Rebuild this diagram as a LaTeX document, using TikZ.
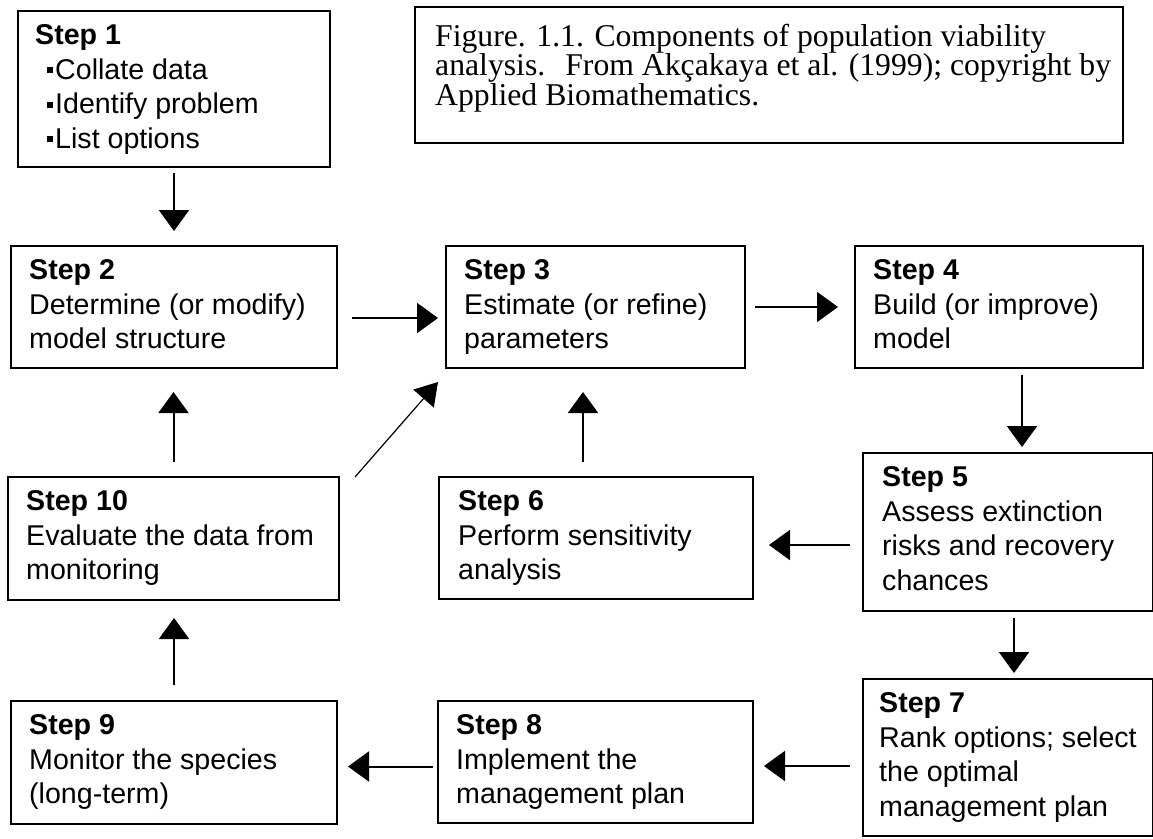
\documentclass[tikz,border=0pt]{standalone}
\usepackage{fontspec}
\setmainfont{Liberation Sans}
\newfontfamily\capfont{Liberation Serif}
\usetikzlibrary{arrows.meta}
\tikzset{
  box/.style={draw, line width=2pt, anchor=north west, inner sep=0pt, outer sep=0pt},
  txt/.style={anchor=north west, inner sep=0pt, align=left, font=\fontsize{28.6}{34.5}\selectfont},
  captxt/.style={anchor=north west, inner sep=0pt, align=left, font=\capfont\fontsize{31.7}{28.5}\selectfont},
  arr/.style={line width=2pt, -{Triangle[length=21pt,width=30pt]}},
  thinarr/.style={line width=1.2pt, -{Triangle[length=22pt,width=27pt]}},
}
\newcommand{\bul}{\hspace*{12pt}\rule[6pt]{6pt}{6pt}\hspace{2pt}}
\begin{document}
\begin{tikzpicture}[x=1pt,y=-1pt]
\useasboundingbox (0,0) rectangle (1153,838);
% boxes
\node[box, minimum width=312pt, minimum height=156pt] (s1) at (18,11) {};
\node[box, minimum width=708pt, minimum height=136pt] (cap) at (415,7) {};
\node[box, minimum width=326pt, minimum height=122pt] (s2) at (11,246) {};
\node[box, minimum width=299pt, minimum height=122pt] (s3) at (446,246) {};
\node[box, minimum width=288pt, minimum height=122pt] (s4) at (855,246) {};
\node[box, minimum width=290pt, minimum height=158pt] (s5) at (863,453) {};
\node[box, minimum width=331pt, minimum height=123pt] (s10) at (8,477) {};
\node[box, minimum width=314pt, minimum height=122pt] (s6) at (439,477) {};
\node[box, minimum width=290pt, minimum height=157pt] (s7) at (863,679) {};
\node[box, minimum width=326pt, minimum height=123pt] (s9) at (11,701) {};
\node[box, minimum width=315pt, minimum height=122pt] (s8) at (438,701) {};
% texts
\node[txt] (t1) at ([xshift=17pt,yshift=-13.5pt]s1.north west) {\textbf{Step 1}\\\bul Collate data\\\bul Identify problem\\\bul List options};
\node[captxt] (capt) at ([xshift=20pt,yshift=-16.5pt]cap.north west) {Figure. 1.1. Components of population viability\\analysis.\hspace{0.3em} From Akçakaya et al. (1999); copyright by\\Applied Biomathematics.};
\node[txt] (t2) at ([xshift=18pt,yshift=-13.5pt]s2.north west) {\textbf{Step 2}\\Determine (or modify)\\model structure};
\node[txt] (t3) at ([xshift=18pt,yshift=-13.5pt]s3.north west) {\textbf{Step 3}\\Estimate (or refine)\\parameters};
\node[txt] (t4) at ([xshift=18pt,yshift=-13.5pt]s4.north west) {\textbf{Step 4}\\Build (or improve)\\model};
\node[txt] (t5) at ([xshift=19pt,yshift=-13.5pt]s5.north west) {\textbf{Step 5}\\Assess extinction\\risks and recovery\\chances};
\node[txt] (t10) at ([xshift=18pt,yshift=-13.5pt]s10.north west) {\textbf{Step 10}\\Evaluate the data from\\monitoring};
\node[txt] (t6) at ([xshift=19pt,yshift=-13.5pt]s6.north west) {\textbf{Step 6}\\Perform sensitivity\\analysis};
\node[txt] (t7) at ([xshift=16pt,yshift=-13.5pt]s7.north west) {\textbf{Step 7}\\Rank options; select\\the optimal\\management plan};
\node[txt] (t9) at ([xshift=18pt,yshift=-13.5pt]s9.north west) {\textbf{Step 9}\\Monitor the species\\(long-term)};
\node[txt] (t8) at ([xshift=18pt,yshift=-13.5pt]s8.north west) {\textbf{Step 8}\\Implement the\\management plan};
% connectors
\draw[arr, shorten <=6pt, shorten >=15pt] (s1.south) -- (s1.south |- s2.north);
\draw[arr, shorten <=15pt, shorten >=8pt] ([yshift=-11pt]s2.east) -- ([yshift=-11pt]s2.east -| s3.west);
\draw[arr, shorten <=10pt, shorten >=17pt] (s3.east) -- (s3.east -| s4.west);
\draw[arr, shorten <=7pt, shorten >=6pt] ([xshift=23pt]s4.south) -- ([xshift=23pt]s4.south |- s5.north);
\draw[arr, shorten <=13pt, shorten >=16pt] ([yshift=-7pt]s6.east -| s5.west) -- ([yshift=-7pt]s6.east);
\draw[arr, shorten <=15pt, shorten >=24pt] ([xshift=-13pt]s6.north) -- ([xshift=-13pt]s6.north |- s3.south);
\draw[thinarr] ([xshift=16pt]s10.north east) -- ([xshift=-8pt,yshift=-14pt]s3.south west);
\draw[arr, shorten <=15pt, shorten >=24pt] (s10.north) -- (s10.north |- s2.south);
\draw[arr, shorten <=7pt, shorten >=6pt] ([xshift=6pt]s5.south) -- ([xshift=6pt]s5.south |- s7.north);
\draw[arr, shorten <=13pt, shorten >=11pt] ([yshift=-4pt]s8.east -| s7.west) -- ([yshift=-4pt]s8.east);
\draw[arr, shorten <=5pt, shorten >=11pt] ([yshift=-4pt]s9.east -| s8.west) -- ([yshift=-4pt]s9.east);
\draw[arr, shorten <=16pt, shorten >=18pt] (s9.north) -- (s9.north |- s10.south);
\end{tikzpicture}
\end{document}
